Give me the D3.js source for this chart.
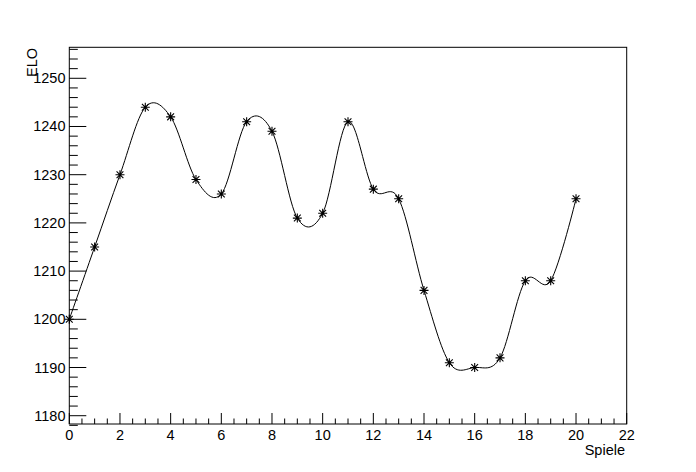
<!DOCTYPE html>
<html>
<head>
<meta charset="utf-8">
<script src="https://cdn.jsdelivr.net/npm/d3@7"></script>
<style>
html,body{margin:0;padding:0;background:#fff;}
svg{display:block;}
text{font-family:"Liberation Sans",Arial,Helvetica,sans-serif;fill:#000;}
</style>
</head>
<body>
<script>
// Data
const games = [0,1,2,3,4,5,6,7,8,9,10,11,12,13,14,15,16,17,18,19,20];
const elo = [1200,1215,1230,1244,1242,1229,1226,1241,1239,1221,1222,1241,1227,1225,1206,1191,1190,1192,1208,1208,1225];
const xTicks = [0,2,4,6,8,10,12,14,16,18,20,22];
const yTicks = [1180,1190,1200,1210,1220,1230,1240,1250];
const xTitle = "Spiele";
const yTitle = "ELO";
const xDomain = [0,22];
const yDomain = [1178.28,1256.43];

const W = 696, H = 472;
const L = 69.3, R = 626.7, T = 47.3, B = 424;
const fs = 14.5;

const svg = d3.select("body").append("svg").attr("width",W).attr("height",H);
const x = d3.scaleLinear().domain(xDomain).range([L,R]);
const y = d3.scaleLinear().domain(yDomain).range([B,T]);

// frame
svg.append("rect").attr("x",L).attr("y",T).attr("width",R-L).attr("height",B-T)
  .attr("fill","none").attr("stroke","#000").attr("stroke-width",1);

// x axis
const xMinor = d3.range(0,22.001,0.5).filter(v=>Math.abs(v/2-Math.round(v/2))>1e-6);
const gx = svg.append("g");
gx.selectAll("line.maj").data(xTicks).join("line")
  .attr("x1",d=>x(d)).attr("x2",d=>x(d)).attr("y1",B).attr("y2",B-11)
  .attr("stroke","#000");
gx.selectAll("line.min").data(xMinor).join("line")
  .attr("x1",d=>x(d)).attr("x2",d=>x(d)).attr("y1",B).attr("y2",B-5.5)
  .attr("stroke","#000");
gx.selectAll("text").data(xTicks).join("text")
  .attr("x",d=>x(d)).attr("y",439.5).attr("text-anchor","middle")
  .attr("font-size",fs).text(d=>d);

// y axis
const yMinor = d3.range(1178,1257,2).filter(v=>v%10!==0);
const gy = svg.append("g");
gy.selectAll("line.maj").data(yTicks).join("line")
  .attr("x1",L).attr("x2",L+17).attr("y1",d=>y(d)).attr("y2",d=>y(d))
  .attr("stroke","#000");
gy.selectAll("line.min").data(yMinor).join("line")
  .attr("x1",L).attr("x2",L+8.5).attr("y1",d=>y(d)).attr("y2",d=>y(d))
  .attr("stroke","#000");
gy.selectAll("text").data(yTicks).join("text")
  .attr("x",65.5).attr("y",d=>y(d)+5).attr("text-anchor","end")
  .attr("font-size",fs).text(d=>d);

// titles
svg.append("text").attr("x",625).attr("y",455).attr("text-anchor","end")
  .attr("font-size",fs).text(xTitle);
svg.append("text").attr("transform","translate(36.5,48) rotate(-90)")
  .attr("text-anchor","end").attr("font-size",fs).text(yTitle);

// smooth line
const pts = games.map((g,i)=>[g,elo[i]]);
const line = d3.line().x(d=>x(d[0])).y(d=>y(d[1])).curve(d3.curveCatmullRom.alpha(0));
svg.append("path").attr("d",line(pts)).attr("fill","none").attr("stroke","#000").attr("stroke-width",1);

// asterisk markers
const s = 4.5, sd = 3.4;
const mk = svg.append("g").attr("stroke","#000").attr("stroke-width",1.1);
pts.forEach(p=>{
  const cx = x(p[0]), cy = y(p[1]);
  mk.append("path").attr("d",
    `M${cx-s},${cy}L${cx+s},${cy}M${cx},${cy-s}L${cx},${cy+s}`+
    `M${cx-sd},${cy-sd}L${cx+sd},${cy+sd}M${cx-sd},${cy+sd}L${cx+sd},${cy-sd}`);
});
</script>
</body>
</html>
